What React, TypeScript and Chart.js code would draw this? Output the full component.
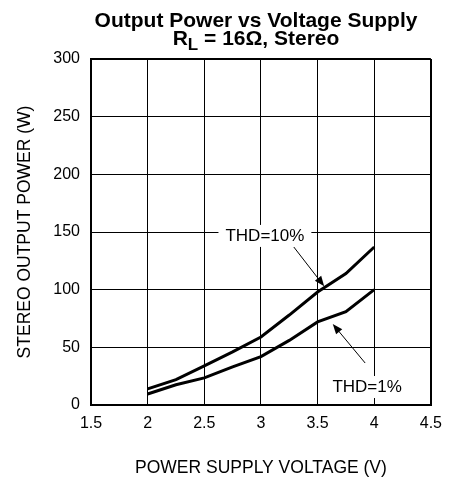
import React, { useEffect, useRef } from "react";
import { Chart, registerables } from "chart.js";

Chart.register(...registerables);

const voltage = [2, 2.25, 2.5, 2.75, 3, 3.25, 3.5, 3.75, 4];
const thd10 = [14, 22, 34, 46, 59, 78, 98, 114, 137];
const thd1 = [9.5, 17.5, 23.5, 33, 42, 56, 72, 81, 100];

const xTicks = [1.5, 2, 2.5, 3, 3.5, 4, 4.5];
const yTicks = [0, 50, 100, 150, 200, 250, 300];

const titleLine1 = "Output Power vs Voltage Supply";
const titleLine2 = ["R", "L", " = 16\u03A9, Stereo"];
const xTitle = "POWER SUPPLY VOLTAGE (V)";
const yTitle = "STEREO OUTPUT POWER (W)";

const noteLabels = ["THD=10%", "THD=1%"];
const noteX = [3.035, 3.937];
const noteY = [146.6, 15.6];
const arrowFromX = [3.29, 3.92];
const arrowFromY = [137, 36.4];
const arrowToX = [3.558, 3.634];
const arrowToY = [103, 70.2];

const FONT = "'Liberation Sans', Arial, Helvetica, sans-serif";

const annotationPlugin = {
  id: "notes",
  afterDatasetsDraw(chart: any) {
    const ctx = chart.ctx;
    const xs = chart.scales.x;
    const ys = chart.scales.y;
    ctx.save();
    for (let i = 0; i < noteLabels.length; i++) {
      const x1 = xs.getPixelForValue(arrowFromX[i]);
      const y1 = ys.getPixelForValue(arrowFromY[i]);
      const x2 = xs.getPixelForValue(arrowToX[i]);
      const y2 = ys.getPixelForValue(arrowToY[i]);
      const ang = Math.atan2(y2 - y1, x2 - x1);
      const head = 10;
      const hw = 4;
      ctx.strokeStyle = "#000";
      ctx.fillStyle = "#000";
      ctx.lineWidth = 1;
      ctx.beginPath();
      ctx.moveTo(x1, y1);
      ctx.lineTo(x2 - Math.cos(ang) * head * 0.8, y2 - Math.sin(ang) * head * 0.8);
      ctx.stroke();
      ctx.beginPath();
      ctx.moveTo(x2, y2);
      ctx.lineTo(
        x2 - Math.cos(ang) * head - Math.sin(ang) * hw,
        y2 - Math.sin(ang) * head + Math.cos(ang) * hw
      );
      ctx.lineTo(
        x2 - Math.cos(ang) * head + Math.sin(ang) * hw,
        y2 - Math.sin(ang) * head - Math.cos(ang) * hw
      );
      ctx.closePath();
      ctx.fill();

      const lx = xs.getPixelForValue(noteX[i]);
      const ly = ys.getPixelForValue(noteY[i]);
      ctx.font = `17px ${FONT}`;
      const w = ctx.measureText(noteLabels[i]).width;
      ctx.fillStyle = "#fff";
      ctx.fillRect(lx - w / 2 - 7, ly - 11, w + 14, 22);
      ctx.fillStyle = "#000";
      ctx.textAlign = "center";
      ctx.textBaseline = "middle";
      ctx.fillText(noteLabels[i], lx, ly);
    }
    ctx.restore();
  },
  afterDraw(chart: any) {
    const ctx = chart.ctx;
    const cx = 256;
    ctx.save();
    ctx.fillStyle = "#000";
    ctx.textBaseline = "alphabetic";
    ctx.textAlign = "center";
    const mainFont = `bold 21px ${FONT}`;
    const subFont = `bold 17px ${FONT}`;
    ctx.font = mainFont;
    ctx.fillText(titleLine1, cx, 27);
    const w0 = ctx.measureText(titleLine2[0]).width;
    const w2 = ctx.measureText(titleLine2[2]).width;
    ctx.font = subFont;
    const w1 = ctx.measureText(titleLine2[1]).width;
    let x = cx - (w0 + w1 + w2) / 2;
    ctx.textAlign = "left";
    ctx.font = mainFont;
    ctx.fillText(titleLine2[0], x, 45);
    x += w0;
    ctx.font = subFont;
    ctx.fillText(titleLine2[1], x, 50);
    x += w1;
    ctx.font = mainFont;
    ctx.fillText(titleLine2[2], x, 45);
    ctx.restore();
  },
};

export default function App() {
  const ref = useRef<HTMLCanvasElement | null>(null);
  useEffect(() => {
    if (!ref.current) return;
    const edgeWidth = (c: any) =>
      c.index === 0 || (c.scale && c.index === c.scale.ticks.length - 1) ? 2 : 1;
    const chart = new Chart(ref.current, {
      type: "line",
      data: {
        datasets: [
          {
            label: "THD=10%",
            data: voltage.map((v, i) => ({ x: v, y: thd10[i] })),
            borderColor: "#000",
            borderWidth: 3,
            pointRadius: 0,
            tension: 0,
            fill: false,
          },
          {
            label: "THD=1%",
            data: voltage.map((v, i) => ({ x: v, y: thd1[i] })),
            borderColor: "#000",
            borderWidth: 3,
            pointRadius: 0,
            tension: 0,
            fill: false,
          },
        ],
      },
      options: {
        responsive: false,
        animation: false,
        devicePixelRatio: 1,
        layout: { padding: { top: 59, right: 14, left: 0, bottom: 0 } },
        plugins: {
          legend: { display: false },
          tooltip: { enabled: false },
          title: { display: false },
        },
        scales: {
          x: {
            type: "linear",
            min: xTicks[0],
            max: xTicks[xTicks.length - 1],
            afterBuildTicks: (s: any) => {
              s.ticks = xTicks.map((v) => ({ value: v }));
            },
            afterFit: (s: any) => {
              s.height = 75;
            },
            grid: { color: "#000", lineWidth: edgeWidth, drawTicks: false },
            border: { color: "#000", width: 2 },
            ticks: {
              color: "#000",
              padding: 9,
              font: { family: FONT, size: 16 },
              callback: (v: any) => String(v),
            },
            title: {
              display: true,
              text: xTitle,
              color: "#000",
              font: { family: FONT, size: 17.5 },
              padding: { top: 0, bottom: 1.5 },
            },
          },
          y: {
            type: "linear",
            min: yTicks[0],
            max: yTicks[yTicks.length - 1],
            afterBuildTicks: (s: any) => {
              s.ticks = yTicks.map((v) => ({ value: v }));
            },
            afterFit: (s: any) => {
              s.width = 91;
            },
            grid: { color: "#000", lineWidth: edgeWidth, drawTicks: false },
            border: { color: "#000", width: 2 },
            ticks: {
              color: "#000",
              padding: 11,
              font: { family: FONT, size: 16 },
              callback: (v: any) => String(v),
            },
            title: {
              display: true,
              text: yTitle,
              color: "#000",
              font: { family: FONT, size: 17.5 },
              padding: { top: 14.5, bottom: 0 },
            },
          },
        },
      },
      plugins: [annotationPlugin],
    } as any);
    return () => chart.destroy();
  }, []);
  return (
    <div style={{ position: "fixed", left: 0, top: 0, width: 451, height: 480, background: "#fff" }}>
      <canvas ref={ref} width={451} height={480} style={{ display: "block" }} />
    </div>
  );
}
